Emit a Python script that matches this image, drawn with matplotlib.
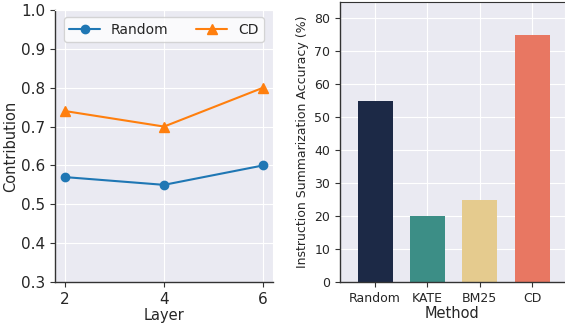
import numpy as np
import matplotlib
matplotlib.use('Agg')
import seaborn as sns
from matplotlib import pyplot as plt

layers = [2, 4, 6]
random_contrib = [0.57, 0.55, 0.60]
cd_contrib = [0.74, 0.70, 0.80]

methods = ['Random', 'KATE', 'BM25', 'CD']
accuracy = [55, 20, 25, 75]
bar_colors = ['#1c2946', '#3c8e86', '#e5cb8e', '#e87762']

sns.set_style('darkgrid')
plt.rcParams['font.family'] = ['DejaVu Sans']

fig = plt.figure(figsize=(5.65, 3.24), dpi=100)
ax1 = fig.add_axes([55 / 565, 42 / 324, 218 / 565, 272 / 324])
ax2 = fig.add_axes([340 / 565, 42 / 324, 225 / 565, 280 / 324])

for ax in (ax1, ax2):
    for side in ('left', 'bottom'):
        ax.spines[side].set_visible(True)
        ax.spines[side].set_color('#333333')
        ax.spines[side].set_linewidth(1.0)
    ax.tick_params(axis='both', which='major', length=3.5, width=0.8,
                   color='#333333', bottom=True, left=True)
ax2.spines['top'].set_visible(True)
ax2.spines['top'].set_color('#333333')

# left: contribution per layer
ax1.plot(layers, random_contrib, marker='o', markersize=6, color='#1f77b4', label='Random')
ax1.plot(layers, cd_contrib, marker='^', markersize=7, color='#ff7f0e', label='CD')
ax1.set_ylim(0.3, 1.0)
ax1.set_xticks(layers)
ax1.tick_params(labelsize=11)
ax1.set_xlabel('Layer', fontsize=10.5, labelpad=1)
ax1.set_ylabel('Contribution', fontsize=10.5, labelpad=2)
ax1.legend(loc='upper center', ncol=2, fontsize=10, facecolor='white',
           framealpha=0.8, handlelength=2.2, columnspacing=2.0,
           borderaxespad=0.5)

# right: accuracy per method
x = np.arange(len(methods))
ax2.bar(x, accuracy, width=0.67, color=bar_colors, linewidth=0)
ax2.set_xticks(x)
ax2.set_xticklabels(methods)
ax2.set_xlim(-0.67, 3.63)
ax2.set_ylim(0, 85)
ax2.tick_params(labelsize=9)
ax2.set_xlabel('Method', fontsize=10.5, labelpad=1)
ax2.set_ylabel('Instruction Summarization Accuracy (%)', fontsize=9)

fig.savefig('out.png', dpi=100)
